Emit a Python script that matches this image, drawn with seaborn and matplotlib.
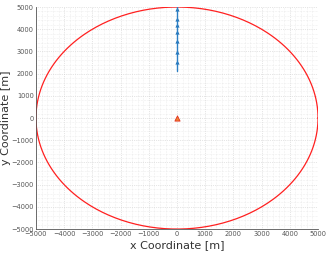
import numpy as np
import pandas as pd
import matplotlib.pyplot as plt
import seaborn as sns
from matplotlib.ticker import MultipleLocator

# boundary circle (radius 5000 m)
radius = 5000
theta = np.linspace(0, 2 * np.pi, 361)
circle = pd.DataFrame({'x': radius * np.cos(theta), 'y': radius * np.sin(theta)})

# track along x = 0
track_x = [0, 0]
track_y = [5000, 2120]
marker_x = [0, 0, 0, 0, 0, 0, 0]
marker_y = [4900, 4450, 4200, 3870, 3470, 2970, 2520]

# centre point
centre_x = [0]
centre_y = [0]

ticks = list(range(-5000, 5001, 1000))

sns.set_style('white')
fig = plt.figure(figsize=(3.33, 2.6), dpi=100)
ax = fig.add_axes([0.108, 0.119, 0.847, 0.854])

sns.lineplot(data=circle, x='x', y='y', sort=False, estimator=None,
             color='#FF2020', linewidth=0.9, ax=ax)
sns.lineplot(x=track_x, y=track_y, sort=False, estimator=None,
             color='#2B7FC4', linewidth=1.0, ax=ax)
sns.scatterplot(x=marker_x, y=marker_y, marker='^', color='#1F6FB5', s=9, linewidth=0, ax=ax)
sns.scatterplot(x=centre_x, y=centre_y, marker='^', color='#F08030', edgecolor='#E03020',
                s=14, linewidth=0.6, ax=ax)

ax.set_xlim(-5000, 5000)
ax.set_ylim(-5000, 5000)
ax.set_xticks(ticks)
ax.set_yticks(ticks)
ax.xaxis.set_minor_locator(MultipleLocator(200))
ax.yaxis.set_minor_locator(MultipleLocator(200))
ax.grid(True, which='major', linestyle=':', color='#cccccc', linewidth=0.5)
ax.grid(True, which='minor', linestyle=':', color='#e0e0e0', linewidth=0.4)
ax.tick_params(axis='both', which='major', labelsize=4.8, colors='#555555', length=2, width=0.5, pad=1.5, direction='in')
ax.tick_params(axis='both', which='minor', length=0)
ax.tick_params(top=False, right=False)
for side in ['top', 'right']:
    ax.spines[side].set_visible(False)
for side in ['left', 'bottom']:
    ax.spines[side].set_color('#555555')
    ax.spines[side].set_linewidth(0.6)

ax.set_xlabel('x Coordinate [m]', fontsize=8, color='#333333', labelpad=2)
ax.set_ylabel('y Coordinate [m]', fontsize=8, color='#333333', labelpad=0.5)

fig.savefig('out.png', dpi=100)
